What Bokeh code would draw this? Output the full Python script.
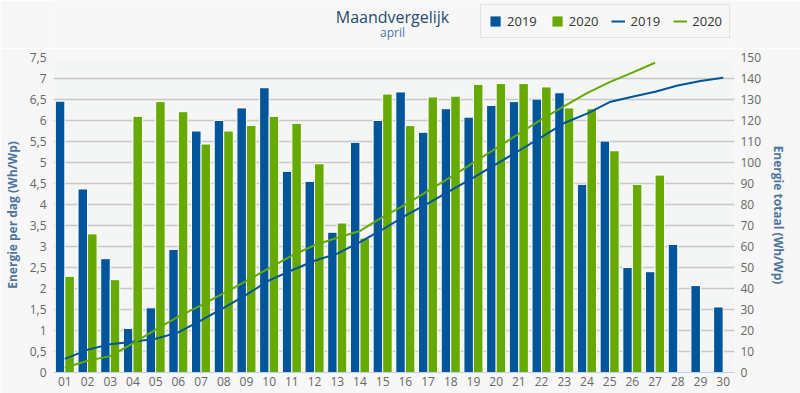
from bokeh.plotting import figure
from bokeh.layouts import column
from bokeh.models import (ColumnDataSource, FactorRange, Range1d, LinearAxis, FixedTicker,
                          CustomJSTickFormatter, Legend, LegendItem, Label)
from bokeh.transform import dodge
from bokeh.embed import file_html
from bokeh.resources import INLINE

days = ["01", "02", "03", "04", "05", "06", "07", "08", "09", "10", "11", "12", "13", "14", "15",
        "16", "17", "18", "19", "20", "21", "22", "23", "24", "25", "26", "27", "28", "29", "30"]
days_2020 = days[:27]

per_dag_2019 = [6.46, 4.37, 2.71, 1.05, 1.54, 2.93, 5.75, 6.00, 6.30, 6.78, 4.79, 4.55, 3.34, 5.48, 6.00,
                6.68, 5.72, 6.28, 6.08, 6.36, 6.45, 6.51, 6.66, 4.48, 5.51, 2.50, 2.40, 3.05, 2.07, 1.56]
per_dag_2020 = [2.29, 3.30, 2.21, 6.10, 6.45, 6.21, 5.44, 5.75, 5.88, 6.10, 5.93, 4.97, 3.56, 3.20, 6.63,
                5.88, 6.56, 6.58, 6.86, 6.88, 6.88, 6.80, 6.30, 6.28, 5.28, 4.48, 4.70]
totaal_2019 = [6.5, 10.8, 13.5, 14.6, 16.1, 19.1, 24.8, 30.8, 37.1, 43.9, 48.7, 53.2, 56.6, 62.1, 68.1,
               74.7, 80.5, 86.7, 92.8, 99.2, 105.6, 112.1, 118.8, 123.3, 128.8, 131.3, 133.7, 136.7, 138.8, 140.4]
totaal_2020 = [2.3, 5.6, 7.8, 13.9, 20.4, 26.6, 32.0, 37.8, 43.6, 49.7, 55.7, 60.6, 64.2, 67.4, 74.0,
               79.9, 86.5, 93.0, 99.9, 106.8, 113.7, 120.5, 126.8, 133.0, 138.3, 142.8, 147.5]

left_ticks = [0, 0.5, 1, 1.5, 2, 2.5, 3, 3.5, 4, 4.5, 5, 5.5, 6, 6.5, 7, 7.5]
right_ticks = [0, 10, 20, 30, 40, 50, 60, 70, 80, 90, 100, 110, 120, 130, 140, 150]

title_text = "Maandvergelijk"
subtitle_text = "april"
series_labels = ["2019", "2020", "2019", "2020"]

BLUE = "#00559b"
GREEN = "#66aa00"
FONT = "Open Sans"
PAGE_BG = "#f7f7f7"

src19 = ColumnDataSource(dict(day=days, v=per_dag_2019, t=totaal_2019))
src20 = ColumnDataSource(dict(day=days_2020, v=per_dag_2020, t=totaal_2020))

# ---------------- header (title, subtitle, legend) ----------------
# same series drawn out of view (range far above data) so that the legend gets its swatches
hdr = figure(width=800, height=48, x_range=FactorRange(*days, range_padding=0),
             y_range=Range1d(1000, 1001), x_axis_type=None, y_axis_type=None,
             output_backend="svg", toolbar_location=None,
             min_border_left=0, min_border_right=0, min_border_top=0, min_border_bottom=0)
hdr.grid.visible = False
hdr.outline_line_color = None
hdr.background_fill_color = PAGE_BG
hdr.border_fill_color = PAGE_BG

hb19 = hdr.vbar(x="day", top="v", width=0.42, source=src19, fill_color=BLUE, line_color="white")
hb20 = hdr.vbar(x="day", top="v", width=0.42, source=src20, fill_color=GREEN, line_color="white")
hl19 = hdr.line(x="day", y="t", source=src19, line_color=BLUE, line_width=2)
hl20 = hdr.line(x="day", y="t", source=src20, line_color=GREEN, line_width=2)

hdr.add_layout(Label(x=339, y=32, x_units="screen", y_units="screen", text=title_text,
                     text_align="center", text_baseline="middle", text_font=FONT,
                     text_font_size="16px", text_color="#274b6d"))
hdr.add_layout(Label(x=339, y=16, x_units="screen", y_units="screen", text=subtitle_text,
                     text_align="center", text_baseline="middle", text_font=FONT,
                     text_font_size="12px", text_color="#4d759e"))

legend = Legend(items=[LegendItem(label=series_labels[0], renderers=[hb19]),
                       LegendItem(label=series_labels[1], renderers=[hb20]),
                       LegendItem(label=series_labels[2], renderers=[hl19]),
                       LegendItem(label=series_labels[3], renderers=[hl20])],
                orientation="horizontal", location="top_right")
legend.label_text_font = FONT
legend.label_text_font_size = "13px"
legend.label_text_color = "#333333"
legend.glyph_width = 14
legend.glyph_height = 14
legend.label_standoff = 5
legend.spacing = 13
legend.padding = 7
legend.margin = 4
legend.background_fill_color = PAGE_BG
legend.background_fill_alpha = 1
legend.border_line_color = "#cccccc"
legend.border_line_width = 1
hdr.add_layout(legend, "center")

# ---------------- main chart ----------------
p = figure(width=800, height=345, x_range=FactorRange(*days, range_padding=0),
           y_range=Range1d(0, 7.5), output_backend="svg", toolbar_location=None,
           min_border_left=51, min_border_right=66, min_border_top=9, min_border_bottom=21)
p.extra_y_ranges = {"tot": Range1d(0, 150)}

p.background_fill_color = "#f4f5f5"
p.border_fill_color = PAGE_BG
p.outline_line_color = None

p.vbar(x=dodge("day", -0.21, range=p.x_range), top="v", width=0.42, source=src19,
       fill_color=BLUE, line_color="white", line_width=1)
p.vbar(x=dodge("day", 0.21, range=p.x_range), top="v", width=0.42, source=src20,
       fill_color=GREEN, line_color="white", line_width=1)
p.line(x="day", y="t", source=src19, y_range_name="tot", line_color=BLUE, line_width=2)
p.line(x="day", y="t", source=src20, y_range_name="tot", line_color=GREEN, line_width=2)

p.xgrid.grid_line_color = None
p.ygrid.grid_line_color = "#c8c8c8"
p.ygrid.grid_line_width = 1.5
p.ygrid.ticker = FixedTicker(ticks=left_ticks)

xa = p.xaxis[0]
xa.axis_line_color = "#c0d0e0"
xa.major_tick_line_color = None
xa.minor_tick_line_color = None
xa.major_tick_out = 0
xa.major_tick_in = 0
xa.major_label_text_font = FONT
xa.major_label_text_font_size = "12px"
xa.major_label_text_color = "#666666"
xa.major_label_standoff = 4

ya = p.yaxis[0]
ya.ticker = FixedTicker(ticks=left_ticks)
ya.formatter = CustomJSTickFormatter(code="return tick.toString().replace('.', ',');")
ya.axis_line_color = None
ya.major_tick_line_color = None
ya.minor_tick_line_color = None
ya.major_tick_out = 0
ya.major_tick_in = 0
ya.major_label_text_font = FONT
ya.major_label_text_font_size = "12px"
ya.major_label_text_color = "#666666"
ya.major_label_standoff = 7
ya.axis_label = "Energie per dag (Wh/Wp)"
ya.axis_label_text_font = FONT
ya.axis_label_text_font_size = "12px"
ya.axis_label_text_font_style = "bold"
ya.axis_label_text_color = "#4d759e"
ya.axis_label_standoff = 6

ra = LinearAxis(y_range_name="tot", ticker=FixedTicker(ticks=right_ticks))
ra.axis_line_color = None
ra.major_tick_line_color = None
ra.minor_tick_line_color = None
ra.major_tick_out = 0
ra.major_tick_in = 0
ra.major_label_text_font = FONT
ra.major_label_text_font_size = "12px"
ra.major_label_text_color = "#666666"
ra.major_label_standoff = 6
ra.axis_label = "Energie totaal (Wh/Wp)"
ra.axis_label_text_font = FONT
ra.axis_label_text_font_size = "12px"
ra.axis_label_text_font_style = "bold"
ra.axis_label_text_color = "#4d759e"
ra.axis_label_standoff = 6
p.add_layout(ra, "right")

layout = column(hdr, p, spacing=0)
open("out.html", "w").write(file_html(layout, INLINE))
